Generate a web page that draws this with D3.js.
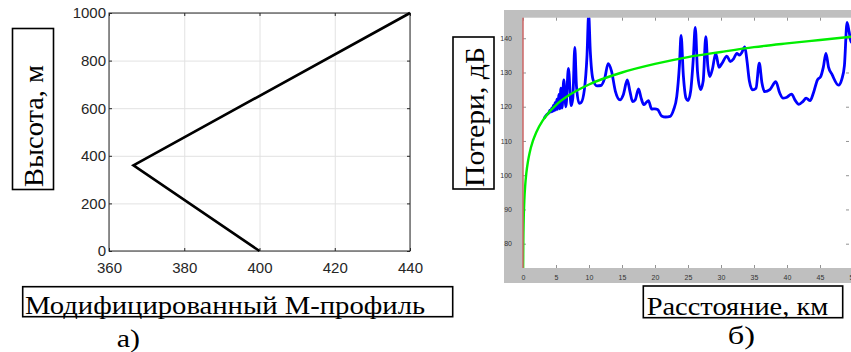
<!DOCTYPE html>
<html>
<head>
<meta charset="utf-8">
<script src="https://cdn.jsdelivr.net/npm/d3@7"></script>
<style>
  body { margin: 0; background: #fff; }
  svg { display: block; }
</style>
</head>
<body>
<div id="vis"></div>
<script>
// а) modified M-profile
const profileM = [400, 366.5, 440];
const profileH = [0, 360, 1000];
const mTicks = [360, 380, 400, 420, 440];
const hTicks = [0, 200, 400, 600, 800, 1000];

// б) path loss vs distance
const distTicks = [0, 5, 10, 15, 20, 25, 30, 35, 40, 45, 50];
const lossTicks = [80, 90, 100, 110, 120, 130, 140];

// green curve
const freeDist = [0.02, 0.05, 0.1, 0.2, 0.35, 0.5, 0.75, 1, 1.5, 2, 3, 4, 5, 7, 10, 15, 20, 25, 30, 35, 40, 45, 50];
const freeLoss = [72.5, 80.5, 86.5, 92.5, 97.4, 100.5, 104, 106.5, 110, 112.5, 116, 118.5, 120.5, 123.4, 126.5, 130, 132.5, 134.5, 136, 137.4, 138.5, 139.5, 140.5];

// blue curve
const lossDist = [3.2, 3.6, 3.9, 4.1, 4.2, 4.35, 4.45, 4.6, 4.7, 4.85, 4.97, 5.12, 5.25, 5.42, 5.56, 5.74, 5.92, 6.18, 6.5, 6.88,
  7.3, 7.55, 7.85, 8.1, 8.5, 8.8, 9.3, 9.7, 9.95, 10.2, 10.6, 11.2, 11.8, 12.4, 12.9, 13.4, 14.0, 14.7, 15.2, 15.8,
  16.2, 16.6, 17.0, 17.5, 17.9, 18.3, 18.7, 19.0, 19.5, 20.0, 20.4, 21.0, 21.6, 22.3, 22.8, 23.3, 23.7, 23.95, 24.3, 24.7,
  25.0, 25.4, 25.8, 26.1, 26.45, 26.9, 27.3, 27.7, 28.0, 28.3, 28.7, 29.2, 29.7, 30.1, 30.9, 31.4, 31.9, 32.4, 32.8, 33.2,
  33.6, 33.9, 34.3, 34.8, 35.3, 35.8, 36.2, 36.6, 37.4, 38.3, 38.9, 39.4, 39.9, 40.7, 41.2, 41.8, 42.4, 42.9, 43.5, 44.0,
  44.6, 45.1, 45.5, 45.9, 46.3, 46.8, 47.8, 48.3, 48.7, 49.1, 49.4, 49.7, 50];
const lossValue = [116.6, 117.7, 118.2, 119.0, 118.4, 119.6, 118.6, 120.4, 118.8, 121.2, 119.0, 122.2, 119.2, 123.6, 119.4, 125.4, 119.6, 127.8, 120.0, 131.2,
  120.3, 122.5, 137.3, 126, 121.0, 121.2, 125, 135, 147, 136, 128, 126.1, 126.2, 128.5, 132.6, 130.5, 124.5, 122, 123.5, 127.8,
  124.5, 121.5, 122, 125.2, 122.5, 120.6, 121.3, 121.8, 119.3, 119.4, 119.2, 117.3, 117.0, 117.2, 119, 123, 132, 140.8, 129, 122.5,
  121.8, 124.5, 134, 143.2, 130, 125, 127.5, 140.5, 132, 128.8, 131, 135.6, 131.5, 132.5, 134.8, 133.2, 134, 135.6, 135.1, 136,
  137.5, 134, 127.5, 124.9, 125.4, 132.7, 127, 124.4, 125, 127.3, 124, 122.5, 122.7, 123.7, 122, 120.7, 121.5, 122.5, 121.8, 124,
  127.8, 128.8, 131.5, 135.6, 131.5, 129.5, 126.3, 128, 132, 144.6, 142, 139, 138.5];

const serif = "'Liberation Serif', 'Times New Roman', serif";
const sans = "'Liberation Sans', Arial, sans-serif";

const svg = d3.select("#vis")
  .append("svg")
    .attr("width", 851)
    .attr("height", 352);

// ---------- left chart ----------
const a = { left: 109, top: 13, width: 301, height: 238 };
const gA = svg.append("g").attr("transform", `translate(${a.left}, ${a.top})`);

const xA = d3.scaleLinear().domain([360, 440]).range([0, a.width]);
const yA = d3.scaleLinear().domain([0, 1000]).range([a.height, 0]);

// grid
gA.append("g")
    .call(d3.axisBottom(xA).tickValues(mTicks).tickSize(a.height).tickFormat(""))
    .call(g => g.select(".domain").remove())
    .call(g => g.selectAll("line").attr("stroke", "#e2e2e2"));
gA.append("g")
    .call(d3.axisRight(yA).tickValues(hTicks).tickSize(a.width).tickFormat(""))
    .call(g => g.select(".domain").remove())
    .call(g => g.selectAll("line").attr("stroke", "#e2e2e2"));

function styleA(g) {
    g.select(".domain").remove();
    g.selectAll("line").attr("stroke", "#262626");
    g.selectAll("text")
        .attr("font-family", sans)
        .attr("font-size", 15)
        .attr("fill", "#262626");
}

gA.append("g")
    .attr("transform", `translate(0, ${a.height})`)
    .call(d3.axisBottom(xA).tickValues(mTicks).tickFormat(d3.format("d")).tickSizeInner(-3).tickSizeOuter(0).tickPadding(11))
    .call(styleA);
gA.append("g")
    .call(d3.axisLeft(yA).tickValues(hTicks).tickFormat(d3.format("d")).tickSizeInner(-3).tickSizeOuter(0).tickPadding(3))
    .call(styleA);
gA.append("g")
    .call(d3.axisTop(xA).tickValues(mTicks).tickSizeInner(-3).tickSizeOuter(0).tickFormat(""))
    .call(styleA);
gA.append("g")
    .attr("transform", `translate(${a.width}, 0)`)
    .call(d3.axisRight(yA).tickValues(hTicks).tickSizeInner(-3).tickSizeOuter(0).tickFormat(""))
    .call(styleA);

gA.append("rect")
    .attr("width", a.width)
    .attr("height", a.height)
    .attr("fill", "none")
    .attr("stroke", "#262626")
    .attr("stroke-width", 1);

const profile = profileM.map((m, i) => ({ m: m, h: profileH[i] }));
gA.append("path")
    .datum(profile)
    .attr("fill", "none")
    .attr("stroke", "#000")
    .attr("stroke-width", 2.6)
    .attr("stroke-linejoin", "miter")
    .attr("d", d3.line().x(d => xA(d.m)).y(d => yA(d.h)));

// ---------- right chart ----------
const b = { left: 523, top: 17.7, width: 330, height: 250.3 };

svg.append("rect")
    .attr("x", 504).attr("y", 10)
    .attr("width", 360).attr("height", 273)
    .attr("fill", "#bfbfbf");

const gB = svg.append("g").attr("transform", `translate(${b.left}, ${b.top})`);

gB.append("rect")
    .attr("width", b.width)
    .attr("height", b.height)
    .attr("fill", "#fff");

const xB = d3.scaleLinear().domain([0, 50]).range([0, b.width]);
const yB = d3.scaleLinear().domain([72.9, 146]).range([b.height, 0]);

function styleB(g) {
    g.select(".domain").remove();
    g.selectAll("line").attr("stroke", "#777").attr("stroke-width", 0.8);
    g.selectAll("text")
        .attr("font-family", sans)
        .attr("font-size", 7)
        .attr("fill", "#333");
}

gB.append("g")
    .attr("transform", `translate(0, ${b.height})`)
    .call(d3.axisBottom(xB).tickValues(distTicks).tickSizeInner(-3).tickSizeOuter(0).tickPadding(7))
    .call(styleB);
gB.append("g")
    .call(d3.axisLeft(yB).tickValues(lossTicks).tickSizeInner(-3).tickSizeOuter(0).tickPadding(11))
    .call(styleB);
gB.append("g")
    .call(d3.axisTop(xB).tickValues(distTicks).tickSizeInner(-3).tickSizeOuter(0).tickFormat(""))
    .call(styleB);
gB.append("g")
    .attr("transform", `translate(${xB(50) - 4}, 0)`)
    .call(d3.axisRight(yB).tickValues(lossTicks).tickSizeInner(-3).tickSizeOuter(0).tickFormat(""))
    .call(styleB);

svg.append("clipPath")
    .attr("id", "clipB")
  .append("rect")
    .attr("width", b.width)
    .attr("height", b.height);

const plotB = gB.append("g").attr("clip-path", "url(#clipB)");

const lossLine = d3.line()
    .x(d => xB(d[0]))
    .y(d => yB(d[1]))
    .curve(d3.curveMonotoneX);

plotB.append("path")
    .datum(lossDist.map((r, i) => [r, lossValue[i]]))
    .attr("fill", "none")
    .attr("stroke", "#0000ff")
    .attr("stroke-width", 2.8)
    .attr("d", lossLine);

plotB.append("path")
    .datum(freeDist.map((r, i) => [r, freeLoss[i]]))
    .attr("fill", "none")
    .attr("stroke", "#00ee00")
    .attr("stroke-width", 2.4)
    .attr("d", lossLine);

gB.append("line")
    .attr("x1", 0).attr("x2", 0)
    .attr("y1", 0).attr("y2", b.height)
    .attr("stroke", "#cc6666")
    .attr("stroke-width", 1.5);

// ---------- boxed labels ----------
function boxLabel(x, y, w, h) {
    svg.append("rect")
        .attr("x", x).attr("y", y)
        .attr("width", w).attr("height", h)
        .attr("fill", "none")
        .attr("stroke", "#000")
        .attr("stroke-width", 1.6);
}

function serifText(txt, x, y, size, len, rotate) {
    const t = svg.append("text")
        .attr("font-family", serif)
        .attr("font-size", size)
        .attr("fill", "#000")
        .attr("textLength", len)
        .attr("lengthAdjust", "spacingAndGlyphs")
        .text(txt);
    if (rotate) {
        t.attr("transform", `translate(${x}, ${y}) rotate(-90)`);
    } else {
        t.attr("x", x).attr("y", y);
    }
}

boxLabel(12.5, 28.5, 41, 161);
serifText("Высота, м", 43, 187, 28, 122, true);

boxLabel(453, 37, 41, 152);
serifText("Потери, дБ", 484, 187, 28, 140, true);

boxLabel(22.7, 286.7, 430, 30);
serifText("Модифицированный М-профиль", 25, 314, 26, 400, false);

boxLabel(643.3, 286, 199.4, 31.7);
serifText("Расстояние, км", 646.7, 315, 26, 181.6, false);

serifText("а)", 116.7, 347, 26, 23.3, false);
serifText("б)", 727.7, 343.5, 26, 27.3, false);
</script>
</body>
</html>
